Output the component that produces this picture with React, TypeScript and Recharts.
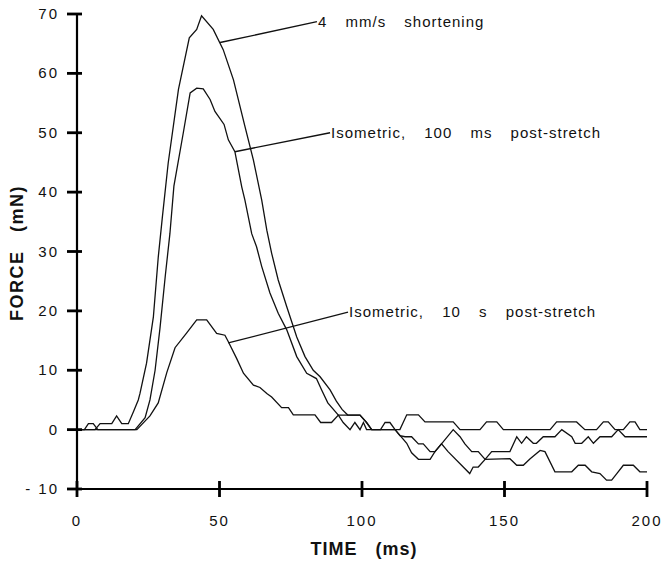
import React from 'react';
import { LineChart, Line, XAxis, YAxis, ReferenceLine, ReferenceDot } from 'recharts';

// Time axis (ms) and force (mN) samples for each trace
const shortTime = [0, 6.3, 8.1, 12.2, 13.9, 15.7, 18, 19.8, 21.5, 22.1, 24.4, 26.8, 28.5, 30, 32, 35.6, 39.4, 42, 43.7, 47.8, 51.3, 54.9, 58.9, 61.9, 64.8, 66.6, 68.3, 70.6, 73.6, 77.1, 80, 82.9, 85.3, 88.8, 91, 93, 95, 99.3, 101.6, 103.4, 111.6, 115.7, 117.4, 119.8, 123.9, 125.6, 127.9, 130.2, 137.8, 139, 140.8, 143.2, 145.5, 151.9, 154.3, 156, 157.7, 160.1, 161.2, 163.6, 167.7, 170.1, 173.6, 174.8, 177.1, 179.4, 181.2, 183.5, 187.6, 189.9, 192.3, 200];
const shortForce = [0, 0, 1.0, 1.0, 2.3, 1.0, 1.0, 3.0, 5.0, 6.1, 11.2, 19, 29, 36, 44.9, 57.3, 66, 67.4, 69.7, 67.4, 64, 58.9, 51.1, 45.4, 38.7, 33.6, 29.7, 25.2, 20.7, 15.6, 12.3, 10, 8.9, 6.7, 4.8, 3.4, 2.45, 2.45, 1.2, 0, 0, -2.3, -3.9, -5.0, -5.0, -3.7, -2.4, -3.7, -7.4, -6.3, -6.3, -5.0, -3.7, -3.7, -1.2, -2.3, -1.2, -2.3, -2.3, -1.2, -1.2, 0, -1.2, -2.3, -2.3, -1.2, -2.3, -1.2, -1.2, 0, -1.2, -1.2];

const iso100Time = [0, 2.6, 4, 5.7, 7.3, 20.4, 23.9, 25.6, 27.4, 29.1, 31, 32.6, 34, 37.3, 39.7, 42, 44.3, 46.7, 48.4, 51.6, 53.1, 55.4, 57.8, 58.9, 61.3, 63, 64.8, 67.7, 70.6, 73.6, 77.1, 80.6, 84, 85.8, 88, 91.7, 93.4, 95.8, 97.5, 99.3, 100.5, 101.6, 111.6, 113.3, 115.1, 117.4, 119.8, 121.5, 123.9, 125.6, 127.9, 132, 134.4, 136.1, 138.5, 140.8, 143.2, 151.9, 154.3, 156.6, 159, 162.5, 164.2, 167.7, 173.6, 175.9, 178.3, 180.6, 183.5, 185.8, 187.6, 189.4, 191.7, 195.2, 197.5, 200];
const iso100Force = [0, 0, 1.0, 1.0, 0, 0, 2, 5, 10, 17, 26, 33, 41, 50, 56.7, 57.5, 57.4, 55.6, 53.6, 51.4, 48.8, 46.8, 40.9, 38.7, 33, 30.8, 27.5, 23, 19.6, 16.8, 12.3, 9.5, 8.6, 6.7, 4.5, 2.45, 1.2, 0, 1.2, 0, 1.2, 0, 0, -1.0, -1.2, -1.2, -2.4, -2.4, -3.7, -3.7, -2.4, 0, -1.2, -2.4, -3.7, -3.7, -5.0, -4.9, -6.0, -6.0, -4.9, -3.5, -3.7, -7.1, -7.1, -6.0, -6.0, -7.1, -7.4, -8.5, -8.5, -7.4, -6.0, -6.0, -7.1, -7.1];

const iso10sTime = [0, 21, 25.6, 28.5, 31.5, 34.4, 38.5, 42, 45.5, 49, 51.9, 53.1, 56, 58.4, 61.9, 64.2, 66.6, 68.3, 71.8, 74.2, 75.9, 83.5, 85.5, 89.3, 91.7, 99.3, 101.6, 103.4, 106.5, 108.1, 109.8, 111.6, 113.3, 115.7, 119.8, 122.1, 132, 134.4, 141.4, 143.7, 147.3, 149.6, 166, 168.3, 175.3, 178.2, 182.3, 184.7, 186.4, 188.8, 191.7, 194, 195.8, 197.5, 200];
const iso10sForce = [0, 0, 2.3, 4.5, 9.6, 13.8, 16.3, 18.5, 18.5, 16.2, 15.9, 14.8, 12, 9.5, 7.5, 7.1, 6.1, 5.5, 3.7, 3.7, 2.5, 2.5, 1.2, 1.2, 2.45, 2.45, 1.2, 0, 0, 1.2, 1.2, 0, 0, 2.5, 2.5, 1.3, 1.3, 0, 0, 1.3, 1.3, 0, 0, 1.3, 1.3, 0, 0, 1.3, 1.3, 0, 0, 1.3, 1.3, 0, 0];

const timeTicks = [0, 50, 100, 150, 200];
const forceTicks = [-10, 0, 10, 20, 30, 40, 50, 60, 70];

const traceLabels = ['4 mm/s shortening', 'Isometric, 100 ms post-stretch', 'Isometric, 10 s post-stretch'];
// Leader line from a point on each trace to where its label starts
const leaderFrom = [{ x: 50.2, y: 65.2 }, { x: 55.4, y: 46.8 }, { x: 53.1, y: 14.6 }];
const leaderTo = [{ x: 84.2, y: 68.7 }, { x: 88.8, y: 50.0 }, { x: 95.1, y: 19.8 }];

const toRows = (t: number[], f: number[]) => t.map((time, i) => ({ time, force: f[i] }));
const shortRows = toRows(shortTime, shortForce);
const iso100Rows = toRows(iso100Time, iso100Force);
const iso10sRows = toRows(iso10sTime, iso10sForce);

const FONT = '"Liberation Sans", Arial, Helvetica, sans-serif';

// Tick mark crossing the bottom axis, with its label below
const XTick = (props: any) => {
  const { x, y, payload } = props;
  return (
    <g>
      <rect x={x - 1.4} y={y - 8} width={2.8} height={16} fill="#000" />
      <text x={x} y={y + 37} textAnchor="middle" fontFamily={FONT} fontSize={15} letterSpacing={2} fill="#111">
        {payload.value}
      </text>
    </g>
  );
};

// Tick mark crossing the left axis, with its label to the left
const YTick = (props: any) => {
  const { x, y, payload } = props;
  const v = payload.value as number;
  const txt = v < 0 ? `- ${Math.abs(v)}` : `${v}`;
  return (
    <g>
      <rect x={x - 10} y={y - 1.4} width={15} height={2.8} fill="#000" />
      <text x={x - 18} y={y + 5} textAnchor="end" fontFamily={FONT} fontSize={15} letterSpacing={2} fill="#111">
        {txt}
      </text>
    </g>
  );
};

const AnnotationText = (text: string) => (props: any) => (
  <text x={props.cx + 1} y={props.cy + 5} fontFamily={FONT} fontSize={15} letterSpacing={1} wordSpacing={13} fill="#111">
    {text}
  </text>
);

export default function App() {
  return (
    <div style={{ position: 'absolute', left: 0, top: 0, background: '#fff' }}>
      <LineChart width={663} height={561} margin={{ top: 14, right: 16, bottom: 42, left: 17 }}>
        <XAxis
          type="number"
          dataKey="time"
          domain={[0, 200]}
          ticks={timeTicks}
          tickSize={0}
          tickMargin={0}
          height={30}
          axisLine={{ stroke: '#000', strokeWidth: 2.2 }}
          tickLine={false}
          tick={<XTick />}
          allowDuplicatedCategory={false}
        />
        <YAxis
          type="number"
          domain={[-10, 70]}
          ticks={forceTicks}
          tickSize={0}
          tickMargin={0}
          width={60}
          allowDataOverflow
          axisLine={{ stroke: '#000', strokeWidth: 2.2 }}
          tickLine={false}
          tick={<YTick />}
        />
        <Line data={shortRows} dataKey="force" type="linear" stroke="#111" strokeWidth={1.3} dot={false} isAnimationActive={false} />
        <Line data={iso100Rows} dataKey="force" type="linear" stroke="#111" strokeWidth={1.3} dot={false} isAnimationActive={false} />
        <Line data={iso10sRows} dataKey="force" type="linear" stroke="#111" strokeWidth={1.3} dot={false} isAnimationActive={false} />
        {traceLabels.map((lbl, i) => (
          <ReferenceLine key={`l${i}`} segment={[leaderFrom[i], leaderTo[i]]} stroke="#111" strokeWidth={1.3} />
        ))}
        {traceLabels.map((lbl, i) => (
          <ReferenceDot key={`d${i}`} x={leaderTo[i].x} y={leaderTo[i].y} r={0} shape={AnnotationText(lbl)} />
        ))}
        <text x={364} y={555} textAnchor="middle" fontFamily={FONT} fontSize={18} fontWeight="bold" letterSpacing={1} wordSpacing={12} fill="#111">
          TIME (ms)
        </text>
        <text
          x={23}
          y={253}
          textAnchor="middle"
          transform="rotate(-90 23 253)"
          fontFamily={FONT}
          fontSize={18}
          fontWeight="bold"
          letterSpacing={1.5}
          wordSpacing={12}
          fill="#111"
        >
          FORCE (mN)
        </text>
      </LineChart>
    </div>
  );
}
